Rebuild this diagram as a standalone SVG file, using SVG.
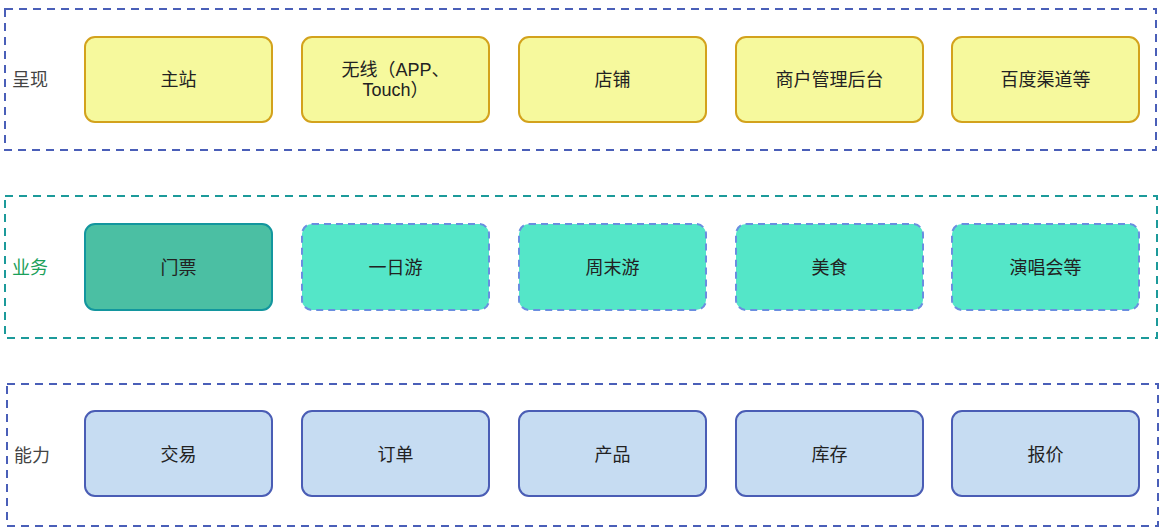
<svg xmlns="http://www.w3.org/2000/svg" width="1166" height="531" viewBox="0 0 1166 531">
<style>
.lane{fill:none;stroke-width:2;stroke-dasharray:8 6}
.lb{stroke:#4a5fb8}
.lt{stroke:#1c9a9a}
.t{font-family:"Liberation Sans","Noto Sans CJK SC",sans-serif;font-size:18px;fill:#222;text-anchor:middle;dominant-baseline:central}
.lab{font-family:"Liberation Sans","Noto Sans CJK SC",sans-serif;font-size:18px;dominant-baseline:central}
.y{fill:#f6f99d;stroke:#d3a21c;stroke-width:2}
.g{fill:#4bbfa3;stroke:#13969e;stroke-width:2}
.c{fill:#54e6c8;stroke:#6a8ee0;stroke-width:2;stroke-dasharray:7 5}
.b{fill:#c6dcf2;stroke:#4a5db5;stroke-width:2}
</style>
<g id="lanes">
<rect class="lane lb" x="5" y="9" width="1151" height="141"/>
<rect class="lane lt" x="5" y="196" width="1152" height="142"/>
<rect class="lane lb" x="7" y="384" width="1151" height="142"/>
<text class="lab" x="12" y="80" fill="#444">呈现</text>
<text class="lab" x="12" y="268" fill="#1aa05a">业务</text>
<text class="lab" x="14" y="456" fill="#444">能力</text>
</g>
<g id="n1"><rect class="y" x="85" y="37" width="187" height="85" rx="10"/><text class="t" x="178.5" y="79.5">主站</text></g>
<g id="n2"><rect class="y" x="302" y="37" width="187" height="85" rx="10"/><text class="t" x="395.5" y="70">无线（APP、</text><text class="t" x="395.5" y="90">Touch）</text></g>
<g id="n3"><rect class="y" x="519" y="37" width="187" height="85" rx="10"/><text class="t" x="612.5" y="79.5">店铺</text></g>
<g id="n4"><rect class="y" x="736" y="37" width="187" height="85" rx="10"/><text class="t" x="829.5" y="79.5">商户管理后台</text></g>
<g id="n5"><rect class="y" x="952" y="37" width="187" height="85" rx="10"/><text class="t" x="1045.5" y="79.5">百度渠道等</text></g>
<g id="n6"><rect class="g" x="85" y="224" width="187" height="86" rx="10"/><text class="t" x="178.5" y="268">门票</text></g>
<g id="n7"><rect class="c" x="302" y="224" width="187" height="86" rx="10"/><text class="t" x="395.5" y="268">一日游</text></g>
<g id="n8"><rect class="c" x="519" y="224" width="187" height="86" rx="10"/><text class="t" x="612.5" y="268">周末游</text></g>
<g id="n9"><rect class="c" x="736" y="224" width="187" height="86" rx="10"/><text class="t" x="829.5" y="268">美食</text></g>
<g id="n10"><rect class="c" x="952" y="224" width="187" height="86" rx="10"/><text class="t" x="1045.5" y="268">演唱会等</text></g>
<g id="n11"><rect class="b" x="85" y="411" width="187" height="85" rx="10"/><text class="t" x="178.5" y="455">交易</text></g>
<g id="n12"><rect class="b" x="302" y="411" width="187" height="85" rx="10"/><text class="t" x="395.5" y="455">订单</text></g>
<g id="n13"><rect class="b" x="519" y="411" width="187" height="85" rx="10"/><text class="t" x="612.5" y="455">产品</text></g>
<g id="n14"><rect class="b" x="736" y="411" width="187" height="85" rx="10"/><text class="t" x="829.5" y="455">库存</text></g>
<g id="n15"><rect class="b" x="952" y="411" width="187" height="85" rx="10"/><text class="t" x="1045.5" y="455">报价</text></g>
<g id="connectors"></g>
</svg>
